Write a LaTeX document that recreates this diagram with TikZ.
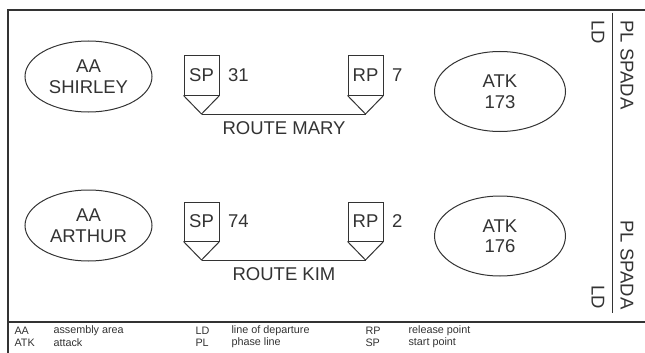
\documentclass[tikz,border=0pt]{standalone}
\usepackage{fontspec}
\setmainfont{Liberation Sans}
\usepackage{tikz}
\usetikzlibrary{shapes.geometric,positioning,calc}

\definecolor{ink}{HTML}{333333}

\tikzset{
  big/.style={font=\fontsize{18.5}{20.5}\selectfont, text=ink},
  small/.style={font=\fontsize{10.8}{12}\selectfont, text=ink, anchor=west},
  area/.style={draw=ink, ellipse, line width=1pt, big, align=center, inner sep=0pt},
  ptbox/.style={draw=ink, rectangle, line width=1pt, big, minimum width=35pt, minimum height=39pt, inner sep=0pt},
  route/.style={draw=ink, line width=1pt}
}

\begin{document}
\begin{tikzpicture}[x=1pt,y=-1pt]
    \useasboundingbox (0,0) rectangle (645,353);

    % frame
    \coordinate (fTL) at (8,10);
    \coordinate (fTR) at (645,10);
    \coordinate (fBL) at (8,353);
    \coordinate (fML) at (8,322);
    \coordinate (fMR) at (645,322);
    \draw[ink, line width=1.3pt] (fTR) -- (fTL) -- (fBL);
    \draw[ink, line width=1.3pt] (fML) -- (fMR);

    % LD / PL SPADA
    \coordinate (ldTop) at (612.5,13);
    \coordinate (ldBot) at (612.5,313);
    \draw[ink, line width=1pt] (ldTop) -- (ldBot);
    \node[big, rotate=-90] (ld1) at (598,32) {LD};
    \node[big, rotate=-90] (ld2) at (598,297) {LD};
    \node[big, rotate=-90] (pl1) at (627,65) {PL SPADA};
    \node[big, rotate=-90] (pl2) at (627,265) {PL SPADA};

    % assembly areas
    \node[area, minimum width=127pt, minimum height=71pt] (aaShirley) at (88.5,76.5) {AA\\SHIRLEY};
    \node[area, minimum width=127pt, minimum height=71pt] (aaArthur) at (88.5,225.5) {AA\\ARTHUR};

    % attack positions
    \node[area, minimum width=131pt, minimum height=80pt] (atk173) at (500,91.5) {ATK\\173};
    \node[area, minimum width=131pt, minimum height=80pt] (atk176) at (500,236) {ATK\\176};

    % Route MARY
    \node[ptbox] (spMary) at (201.5,75.5) {SP};
    \coordinate (spMaryTip) at (201.5,114);
    \draw[route] (spMary.south west) -- (spMaryTip) -- (spMary.south east);
    \node[big, right=5pt of spMary] (spMaryNo) {31};
    \node[ptbox] (rpMary) at (365.5,75.5) {RP};
    \coordinate (rpMaryTip) at (365.5,114);
    \draw[route] (rpMary.south west) -- (rpMaryTip) -- (rpMary.south east);
    \node[big, right=5pt of rpMary] (rpMaryNo) {7};
    \draw[route] (spMaryTip) -- (rpMaryTip);
    \node[big] (mary) at (284,128) {ROUTE MARY};

    % Route KIM
    \node[ptbox] (spKim) at (201.5,221.5) {SP};
    \coordinate (spKimTip) at (201.5,260);
    \draw[route] (spKim.south west) -- (spKimTip) -- (spKim.south east);
    \node[big, right=5pt of spKim] (spKimNo) {74};
    \node[ptbox] (rpKim) at (365.5,221.5) {RP};
    \coordinate (rpKimTip) at (365.5,260);
    \draw[route] (rpKim.south west) -- (rpKimTip) -- (rpKim.south east);
    \node[big, right=5pt of rpKim] (rpKimNo) {2};
    \draw[route] (spKimTip) -- (rpKimTip);
    \node[big] (kim) at (284,274) {ROUTE KIM};

    % legend
    \node[small] (kAA) at (11,331) {AA};
    \node[small] (vAA) at (50,331) {assembly area};
    \node[small] (kATK) at (11,343) {ATK};
    \node[small] (vATK) at (50,343) {attack};
    \node[small] (kLD) at (192,331) {LD};
    \node[small] (vLD) at (228,331) {line of departure};
    \node[small] (kPL) at (192,343) {PL};
    \node[small] (vPL) at (228,343) {phase line};
    \node[small] (kRP) at (362,331) {RP};
    \node[small] (vRP) at (405,331) {release point};
    \node[small] (kSP) at (362,343) {SP};
    \node[small] (vSP) at (405,343) {start point};
\end{tikzpicture}
\end{document}
